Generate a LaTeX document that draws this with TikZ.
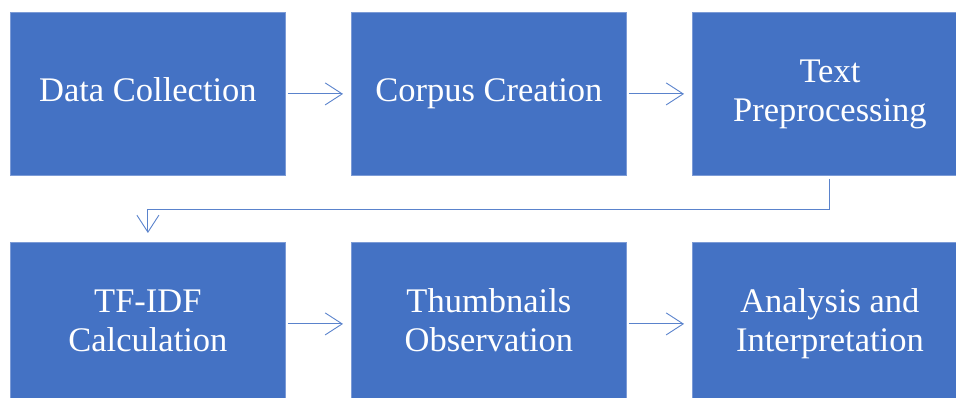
\documentclass[tikz,border=0pt]{standalone}
\usepackage{fontspec}
\setmainfont{Liberation Serif}
\usetikzlibrary{arrows.meta}
\definecolor{boxblue}{HTML}{4472C4}
\definecolor{edgeblue}{HTML}{7C9BD6}
\definecolor{arrowblue}{HTML}{5A83CC}
\begin{document}
\begin{tikzpicture}[x=1pt,y=-1pt,
  stepbox/.style={fill=boxblue, draw=edgeblue, line width=0.8pt, text=white,
    minimum width=275pt, minimum height=163pt, inner sep=0pt, align=center,
    font=\fontsize{34.5}{39}\selectfont, anchor=north west},
  link/.style={draw=arrowblue, line width=0.9pt, -{Straight Barb[length=17pt,width=22pt,line width=0.9pt]}}]
\useasboundingbox (0,0) rectangle (956,398);
\node[stepbox] (a) at (10,12) {\strut Data Collection\strut};
\node[stepbox] (b) at (351,12) {\strut Corpus Creation\strut};
\node[stepbox] (c) at (692,12) {\strut Text\\Preprocessing\strut};
\node[stepbox] (d) at (10,242) {\strut TF-IDF\\Calculation\strut};
\node[stepbox] (e) at (351,242) {\strut Thumbnails\\Observation\strut};
\node[stepbox] (f) at (692,242) {\strut Analysis and\\Interpretation\strut};
\draw[link] ([xshift=2pt]a.east) -- ([xshift=-8pt]b.west);
\draw[link] ([xshift=2pt]b.east) -- ([xshift=-8pt]c.west);
\draw[link] ([xshift=2pt]d.east) -- ([xshift=-8pt]e.west);
\draw[link] ([xshift=2pt]e.east) -- ([xshift=-8pt]f.west);
\coordinate (cb) at ([yshift=-3pt]c.south);
\coordinate (mid) at (0,209);
\draw[link] (cb) |- (mid -| d.north) -- ([yshift=9pt]d.north);
\end{tikzpicture}
\end{document}
